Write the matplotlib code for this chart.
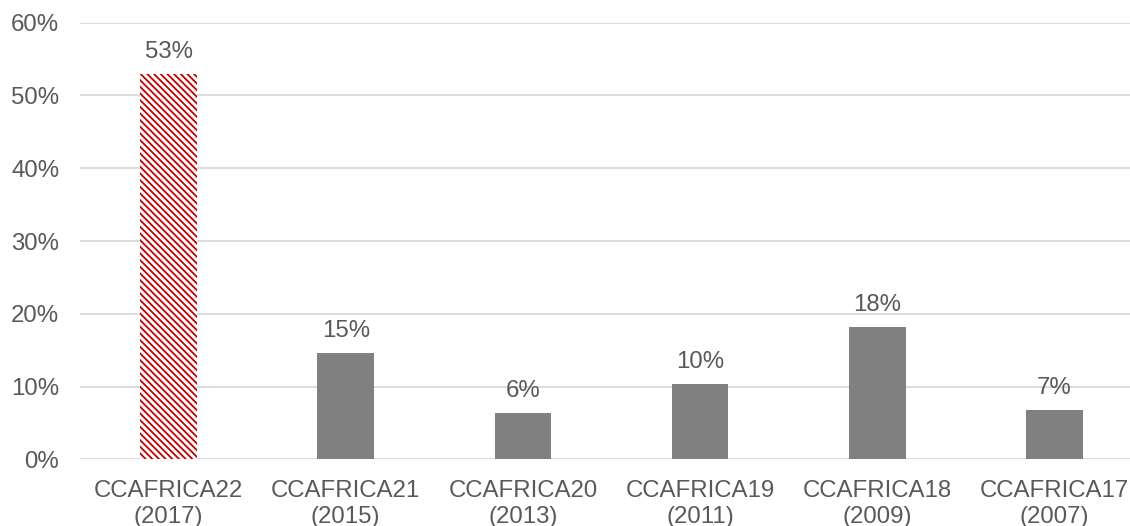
import matplotlib.pyplot as plt
from matplotlib.ticker import PercentFormatter

plt.rcParams['font.family'] = ['Liberation Sans', 'DejaVu Sans']
plt.rcParams['hatch.linewidth'] = 1.3

# survey rounds (x axis) and share of respondents (%)
rounds = ["CCAFRICA22\n(2017)", "CCAFRICA21\n(2015)", "CCAFRICA20\n(2013)",
          "CCAFRICA19\n(2011)", "CCAFRICA18\n(2009)", "CCAFRICA17\n(2007)"]
shares = [53.0, 14.6, 6.3, 10.4, 18.2, 6.8]
yticks = [0, 10, 20, 30, 40, 50, 60]

text_col = '#595959'
grid_col = '#D9D9D9'
fs = 17.3

fig = plt.figure(figsize=(11.3, 5.26), dpi=100)
ax = fig.add_axes([80 / 1130, 66.7 / 526, 1063 / 1130, 436.6 / 526])

x = list(range(len(rounds)))
bars = ax.bar(x, shares, width=0.32, color='#808080', zorder=3)
# latest round highlighted with dense red hatching
bars[0].set_facecolor('white')
bars[0].set_edgecolor('#C00000')
bars[0].set_linewidth(0)
bars[0].set_hatch('\\' * 5)

for xi, v in zip(x, shares):
    ax.annotate(f"{v:.0f}%", (xi, v), xytext=(0, 8), textcoords='offset points',
                ha='center', va='bottom', fontsize=fs, color=text_col)

ax.set_xlim(-0.5, len(rounds) - 0.5)
ax.set_ylim(0, 60)
ax.set_yticks(yticks)
ax.yaxis.set_major_formatter(PercentFormatter(decimals=0))
ax.set_xticks(x)
ax.set_xticklabels(rounds, linespacing=1.2)
ax.tick_params(axis='both', length=0, labelsize=fs, colors=text_col)
ax.tick_params(axis='x', pad=15)
ax.tick_params(axis='y', pad=15)
ax.grid(axis='y', color=grid_col, linewidth=1.3, zorder=0)
for s in ax.spines.values():
    s.set_visible(False)

fig.savefig('out.png', dpi=100)
